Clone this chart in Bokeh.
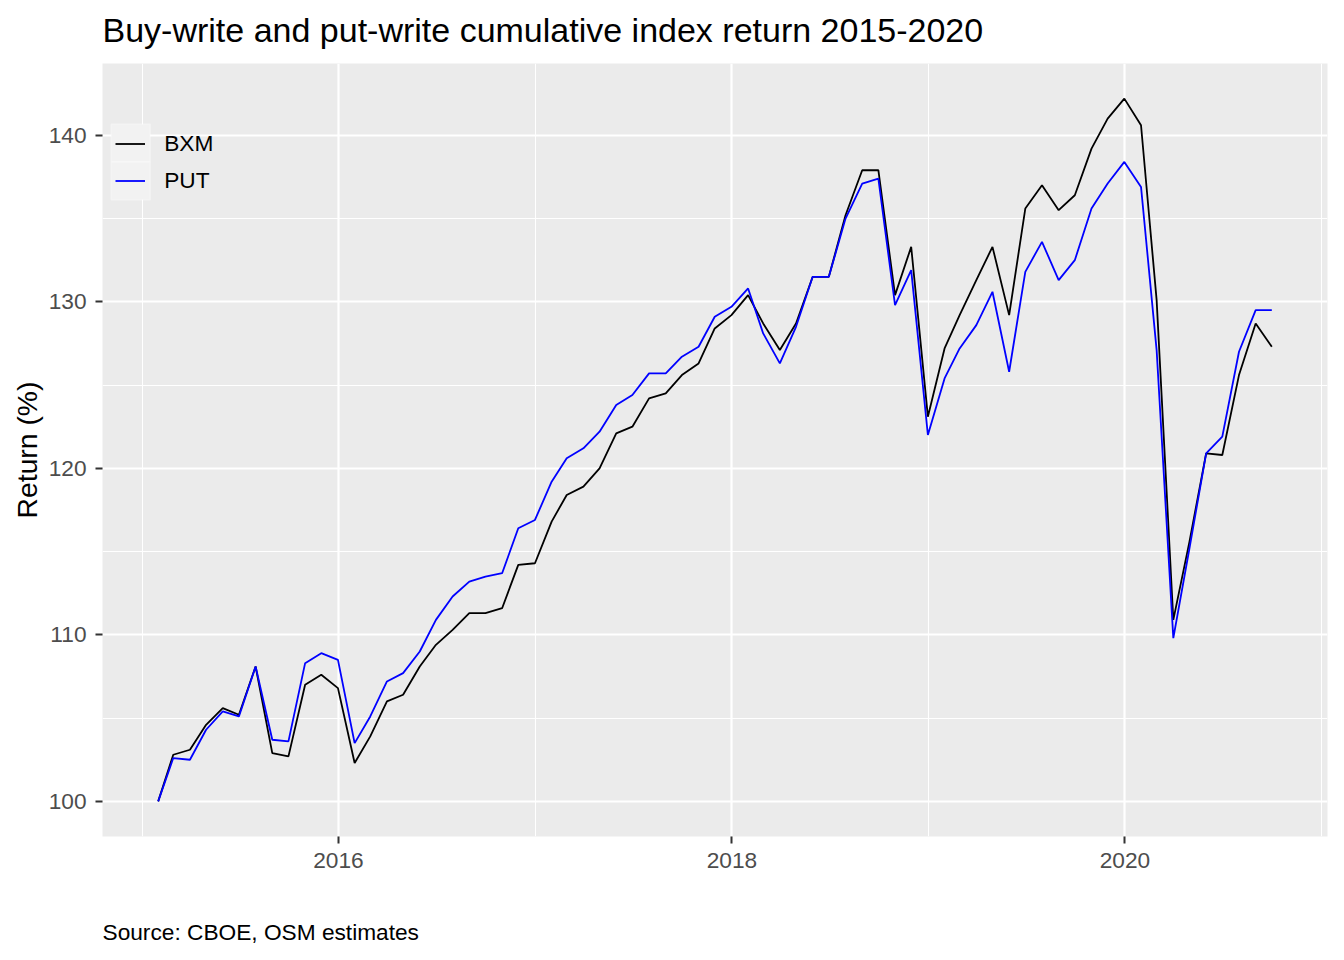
import pandas as pd
from bokeh.plotting import figure
from bokeh.models import (Range1d, FixedTicker, DatetimeTickFormatter, Legend, LegendItem,
                          Title, BoxAnnotation, ColumnDataSource)
from bokeh.embed import file_html
from bokeh.resources import INLINE

# ---------------- data ----------------
dates = pd.date_range("2015-01-31", periods=69, freq="ME")

bxm = [100.0, 102.8, 103.1, 104.6, 105.6, 105.2, 108.1, 102.9, 102.7, 107.0,
       107.6, 106.8, 102.3, 103.9, 106.0, 106.4, 108.1, 109.4, 110.3, 111.3,
       111.3, 111.6, 114.2, 114.3, 116.8, 118.4, 118.9, 120.0, 122.1, 122.5,
       124.2, 124.5, 125.6, 126.3, 128.4, 129.2, 130.4, 128.7, 127.1, 128.7,
       131.5, 131.5, 135.2, 137.9, 137.9, 130.4, 133.3, 123.1, 127.2, 129.2,
       131.3, 133.3, 129.2, 135.6, 137.0, 135.5, 136.4, 139.2, 141.0, 142.2,
       140.6, 130.1, 110.9, 115.6, 120.9, 120.8, 125.6, 128.7, 127.3]

put = [100.0, 102.6, 102.5, 104.3, 105.4, 105.1, 108.1, 103.7, 103.6, 108.3,
       108.9, 108.5, 103.5, 105.1, 107.2, 107.7, 109.0, 110.9, 112.3, 113.2,
       113.5, 113.7, 116.4, 116.9, 119.2, 120.6, 121.2, 122.2, 123.8, 124.4,
       125.7, 125.7, 126.7, 127.3, 129.1, 129.7, 130.8, 128.1, 126.3, 128.5,
       131.5, 131.5, 135.0, 137.1, 137.4, 129.8, 131.9, 122.0, 125.4, 127.2,
       128.6, 130.6, 125.8, 131.8, 133.6, 131.3, 132.5, 135.6, 137.1, 138.4,
       136.9, 127.1, 109.8, 115.2, 120.9, 121.9, 127.0, 129.5, 129.5]

series_names = ["BXM", "PUT"]
series_colors = ["black", "blue"]

y_major = [100, 110, 120, 130, 140]
y_minor = [105, 115, 125, 135]
x_major_years = [2016, 2018, 2020]
x_minor_years = [2015, 2017, 2019, 2021]

title_text = "Buy-write and put-write cumulative index return 2015-2020"
y_label = "Return (%)"
caption = "Source: CBOE, OSM estimates"

# ---------------- layout ----------------
FONT = "Liberation Sans"
FRAME_W, FRAME_H = 1225, 773

src = ColumnDataSource(dict(date=dates, BXM=bxm, PUT=put))

xspan = dates[-1] - dates[0]
x_start = dates[0] - 0.05 * xspan
x_end = dates[-1] + 0.05 * xspan
ymin = min(min(bxm), min(put)); ymax = max(max(bxm), max(put))
yspan = ymax - ymin

p = figure(x_axis_type="datetime", output_backend="svg", toolbar_location=None,
           frame_width=FRAME_W, frame_height=FRAME_H,
           min_border_left=0, min_border_right=8, min_border_top=0, min_border_bottom=0,
           x_range=Range1d(x_start, x_end),
           y_range=Range1d(ymin - 0.05 * yspan, ymax + 0.05 * yspan))

p.background_fill_color = "#EBEBEB"
p.border_fill_color = "white"
p.outline_line_color = None

def ms(y):
    return pd.Timestamp(f"{y}-01-01").value / 1e6

p.xaxis.ticker = FixedTicker(ticks=[ms(y) for y in x_major_years],
                             minor_ticks=[ms(y) for y in x_minor_years])
p.xaxis.formatter = DatetimeTickFormatter(years="%Y", months="%Y", days="%Y", hours="%Y",
                                          minutes="%Y", seconds="%Y", milliseconds="%Y",
                                          microseconds="%Y", hourmin="%Y", minsec="%Y")
p.yaxis.ticker = FixedTicker(ticks=y_major, minor_ticks=y_minor)

for ax in (p.xaxis[0], p.yaxis[0]):
    ax.axis_line_color = None
    ax.major_tick_line_color = "#333333"
    ax.major_tick_line_width = 2
    ax.major_tick_out = 7
    ax.major_tick_in = 0
    ax.minor_tick_line_color = None
    ax.major_label_text_font = FONT
    ax.major_label_text_font_size = "22.7px"
    ax.major_label_text_color = "#4D4D4D"

p.xaxis.major_label_standoff = 9
p.yaxis.major_label_standoff = 9
p.yaxis.axis_label = y_label
p.yaxis.axis_label_text_font = FONT
p.yaxis.axis_label_text_font_size = "28.3px"
p.yaxis.axis_label_text_font_style = "normal"
p.yaxis.axis_label_text_color = "black"
p.yaxis.axis_label_standoff = 3

for g in (p.xgrid[0], p.ygrid[0]):
    g.grid_line_color = "white"
    g.grid_line_width = 2.2
    g.minor_grid_line_color = "white"
    g.minor_grid_line_width = 1.1

renderers = []
for name, col in zip(series_names, series_colors):
    r = p.line("date", name, source=src, line_color=col, line_width=1.8)
    renderers.append(r)

# small blank spacers (outer margins)
p.add_layout(Title(text=" ", text_font=FONT, text_font_size="4px", standoff=0), "left")
p.add_layout(Title(text=" ", text_font=FONT, text_font_size="4px", standoff=0), "above")

# title & caption
p.title = Title(text=title_text, text_font=FONT, text_font_size="34px",
                text_font_style="normal", text_color="black", align="left", standoff=16)
p.add_layout(Title(text=caption, text_font=FONT, text_font_size="22.7px",
                   text_font_style="normal", text_color="black", align="left",
                   standoff=93), "below")

# legend key boxes (ggplot style)
KEY_LEFT, KEY_W, KEY_H, KEY_TOP = 8.7, 39, 37.8, 60.7
for k in range(len(series_names)):
    top = FRAME_H - KEY_TOP - k * KEY_H
    p.add_layout(BoxAnnotation(left=KEY_LEFT, right=KEY_LEFT + KEY_W, top=top, bottom=top - KEY_H,
                               left_units="screen", right_units="screen",
                               top_units="screen", bottom_units="screen",
                               fill_color="#F2F2F2", fill_alpha=1,
                               line_color="white", line_width=1.7))

legend = Legend(items=[LegendItem(label=n, renderers=[r]) for n, r in zip(series_names, renderers)],
                location=(KEY_LEFT + 4.5, FRAME_H - KEY_TOP - len(series_names) * KEY_H),
                orientation="vertical", glyph_width=30, glyph_height=int(KEY_H),
                label_height=int(KEY_H), spacing=0, padding=0, margin=0, label_standoff=19,
                label_text_font=FONT, label_text_font_size="22.7px", label_text_color="black",
                background_fill_alpha=0, border_line_alpha=0)
p.add_layout(legend)

open("out.html", "w").write(file_html(p, INLINE))
